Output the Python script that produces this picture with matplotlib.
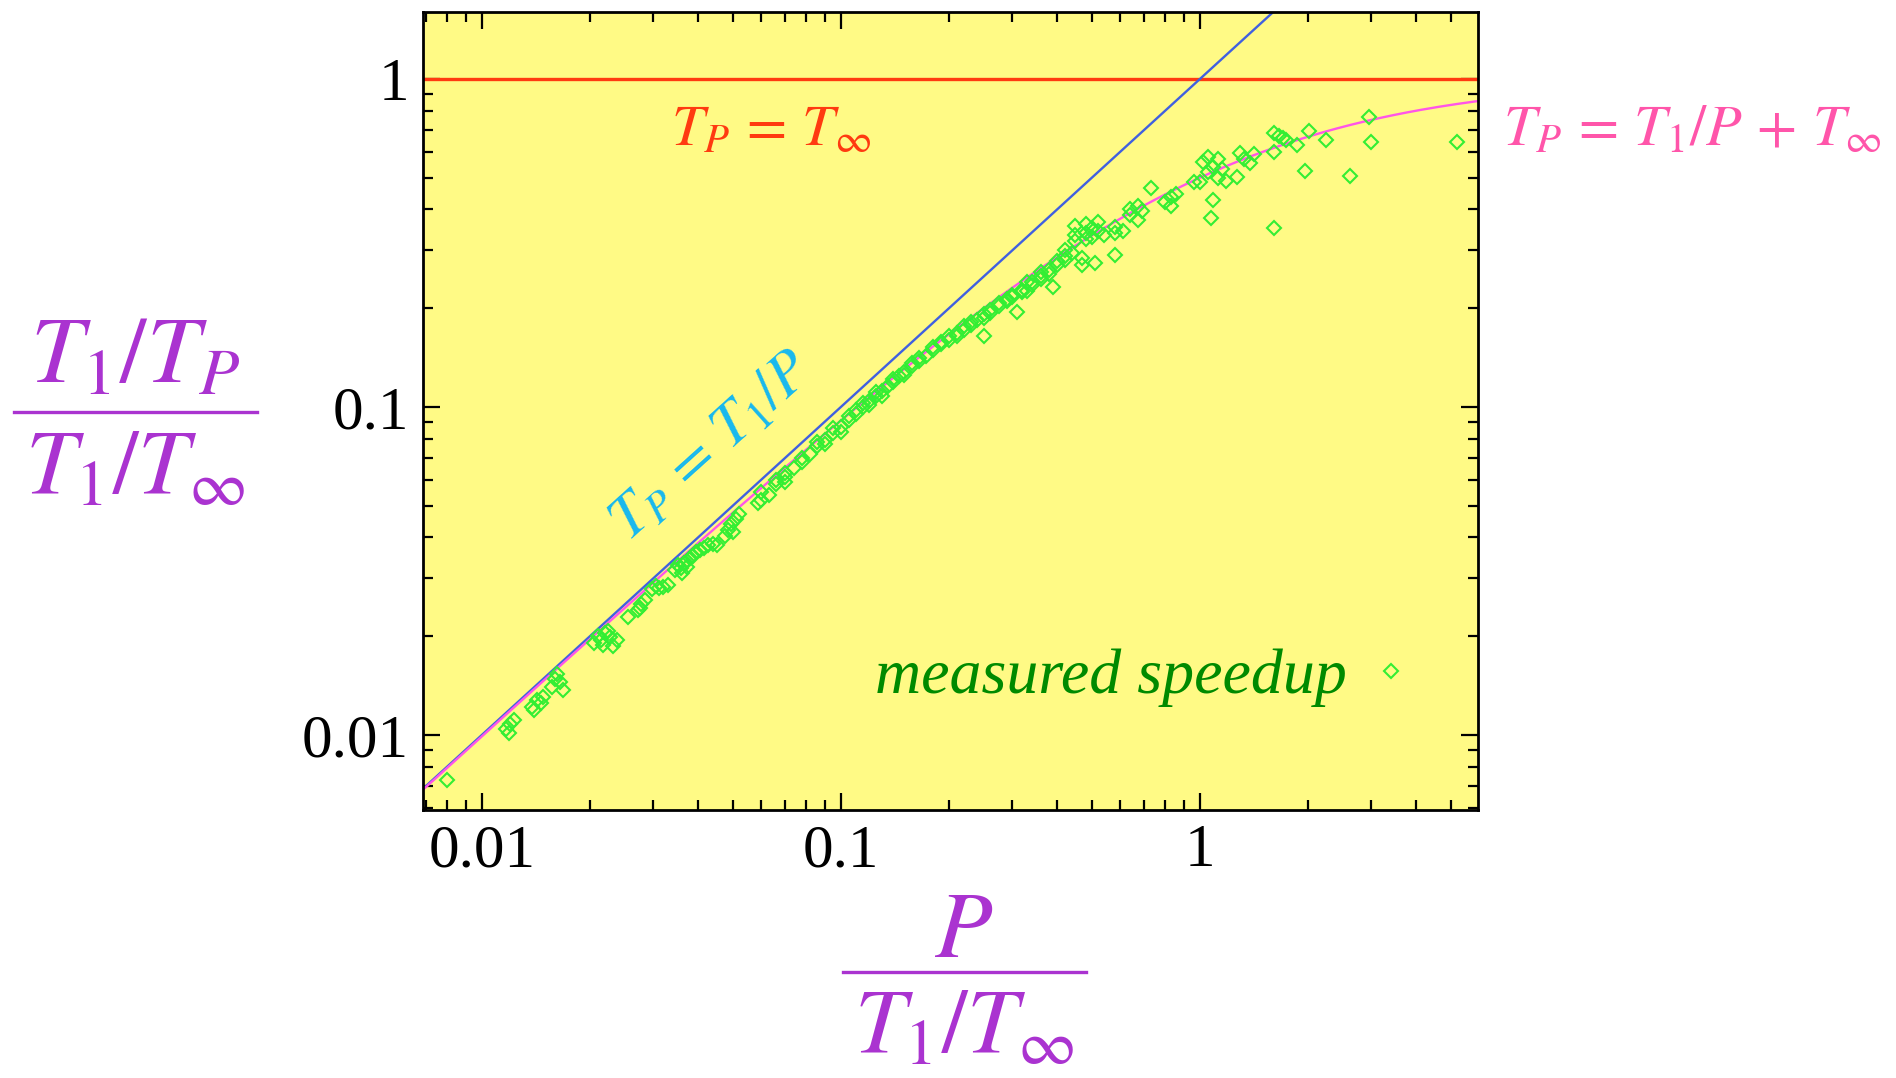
import numpy as np
import matplotlib
matplotlib.use("Agg")
import matplotlib.pyplot as plt
from matplotlib.lines import Line2D
from matplotlib.ticker import FixedLocator, FixedFormatter, LogLocator, NullFormatter

plt.rcParams['mathtext.fontset'] = 'stix'
plt.rcParams['font.family'] = ['Liberation Serif', 'DejaVu Serif']

# measured speedup, x = P/(T1/Tinf), y = (T1/TP)/(T1/Tinf)
meas_x = [
    0.0080,
    0.0117, 0.0120, 0.0123, 0.0119,
    0.0138, 0.0142, 0.0146, 0.0140, 0.0148,
    0.0157, 0.0160, 0.0165, 0.0168, 0.0162,
    0.0205, 0.0210, 0.0215, 0.0220, 0.0225, 0.0218, 0.0232, 0.0238, 0.0228,
    0.0255,
    0.0272, 0.0278, 0.0284, 0.0276,
    0.0298, 0.0305, 0.0312, 0.0320, 0.0330,
    0.0345, 0.0352, 0.0358, 0.0365, 0.0372, 0.0380, 0.0388, 0.0395, 0.0405,
    0.0415, 0.0425, 0.0440, 0.0452, 0.0360, 0.0372,
    0.0475, 0.0485, 0.0495, 0.0510, 0.0520, 0.0500,
    0.0587,
    0.060, 0.060, 0.063, 0.066, 0.066, 0.070, 0.070, 0.070, 0.074, 0.078,
    0.078, 0.082, 0.086, 0.086, 0.090, 0.090, 0.095, 0.095, 0.100, 0.100,
    0.105, 0.105, 0.110, 0.110, 0.115, 0.115, 0.120, 0.120, 0.125, 0.125,
    0.130, 0.130, 0.135, 0.140, 0.140, 0.145, 0.150, 0.150, 0.158, 0.158,
    0.165, 0.165, 0.172, 0.180, 0.180, 0.190, 0.190, 0.200, 0.200, 0.210,
    0.210, 0.220, 0.220, 0.230, 0.230, 0.240, 0.250, 0.250, 0.250, 0.260,
    0.260, 0.275, 0.275, 0.290, 0.290, 0.300, 0.300, 0.310, 0.320, 0.320,
    0.330, 0.330, 0.340, 0.340, 0.360, 0.360, 0.360, 0.380, 0.380, 0.390,
    0.400, 0.400, 0.420, 0.420, 0.420, 0.440, 0.450, 0.450, 0.450, 0.470,
    0.470, 0.480, 0.480, 0.480, 0.500, 0.500, 0.510, 0.520, 0.520, 0.540,
    0.580, 0.580, 0.580, 0.610, 0.640, 0.640, 0.670, 0.670, 0.690, 0.730,
    0.800, 0.830, 0.830, 0.860, 0.960, 1.000, 1.020, 1.050, 1.050, 1.070,
    1.090, 1.090, 1.120, 1.120, 1.150, 1.180, 1.270, 1.290, 1.330, 1.380,
    1.410, 1.610, 1.610, 1.610, 1.660, 1.700, 1.740, 1.860, 1.960, 2.010,
    2.240, 2.620, 2.960, 2.990, 5.200,
]
meas_y = [
    0.0073,
    0.0104, 0.0108, 0.0111, 0.0101,
    0.0122, 0.0128, 0.0125, 0.0119, 0.0130,
    0.0140, 0.0148, 0.0145, 0.0137, 0.0153,
    0.0190, 0.0200, 0.0195, 0.0205, 0.0208, 0.0188, 0.0186, 0.0194, 0.0199,
    0.0229,
    0.0240, 0.0250, 0.0258, 0.0244,
    0.0278, 0.0285, 0.0280, 0.0283, 0.0287,
    0.0318, 0.0330, 0.0322, 0.0335, 0.0340, 0.0345, 0.0352, 0.0360, 0.0366,
    0.0372, 0.0378, 0.0383, 0.0380, 0.0312, 0.0326,
    0.0405, 0.0420, 0.0440, 0.0455, 0.0470, 0.0415,
    0.0510,
    0.052, 0.055, 0.054, 0.058, 0.060, 0.061, 0.063, 0.059, 0.065, 0.068,
    0.070, 0.072, 0.076, 0.078, 0.079, 0.077, 0.083, 0.086, 0.087, 0.084,
    0.091, 0.094, 0.095, 0.098, 0.100, 0.103, 0.104, 0.101, 0.108, 0.111,
    0.112, 0.108, 0.116, 0.119, 0.122, 0.124, 0.128, 0.125, 0.133, 0.136,
    0.138, 0.141, 0.143, 0.149, 0.152, 0.155, 0.158, 0.160, 0.164, 0.168,
    0.165, 0.172, 0.176, 0.178, 0.182, 0.184, 0.187, 0.192, 0.165, 0.193,
    0.198, 0.203, 0.207, 0.210, 0.214, 0.216, 0.220, 0.195, 0.228, 0.224,
    0.240, 0.225, 0.235, 0.240, 0.246, 0.250, 0.258, 0.262, 0.255, 0.232,
    0.270, 0.278, 0.280, 0.288, 0.300, 0.295, 0.320, 0.355, 0.335, 0.285,
    0.270, 0.340, 0.362, 0.325, 0.350, 0.330, 0.275, 0.345, 0.365, 0.335,
    0.290, 0.354, 0.340, 0.345, 0.400, 0.385, 0.372, 0.410, 0.395, 0.466,
    0.420, 0.437, 0.410, 0.445, 0.486, 0.486, 0.560, 0.578, 0.520, 0.377,
    0.428, 0.540, 0.500, 0.570, 0.530, 0.490, 0.503, 0.595, 0.570, 0.555,
    0.590, 0.351, 0.599, 0.685, 0.670, 0.660, 0.652, 0.629, 0.524, 0.694,
    0.652, 0.506, 0.766, 0.643, 0.643,
]

x_min, x_max = 0.00685, 5.95
y_min, y_max = 0.0059, 1.6
tick_vals = [0.01, 0.1, 1]
tick_text = ['0.01', '0.1', '1']

purple = '#AA33D0'

fig = plt.figure(figsize=(18.96, 10.78), dpi=100)
ax = fig.add_axes([423 / 1896, 1 - 810 / 1078, 1055 / 1896, 798 / 1078])
ax.set_facecolor('#FFFA85')
ax.set_xscale('log')
ax.set_yscale('log')
ax.set_xlim(x_min, x_max)
ax.set_ylim(y_min, y_max)

# bounds: span, work/P and the greedy bound
xs = np.logspace(np.log10(x_min), np.log10(x_max), 300)
ax.axhline(1.0, color='#FF3A10', lw=2.4, zorder=2)
ax.plot(xs, xs, color='#4060E0', lw=1.7, zorder=2)
ax.plot(xs, xs / (1 + xs), color='#FF55E8', lw=1.7, zorder=2)

ax.plot(meas_x, meas_y, ls='none', marker='D', ms=7.5, mfc='none',
        mec='#33EE33', mew=1.5, zorder=3, label='measured speedup')

for axis in (ax.xaxis, ax.yaxis):
    axis.set_major_locator(FixedLocator(tick_vals))
    axis.set_major_formatter(FixedFormatter(tick_text))
    axis.set_minor_locator(LogLocator(base=10, subs=np.arange(2, 10), numticks=20))
    axis.set_minor_formatter(NullFormatter())

ax.tick_params(which='both', direction='in', top=True, right=True, width=1.6, color='black')
ax.tick_params(which='major', length=12, labelsize=44, pad=10)
ax.tick_params(which='minor', length=7)
for sp in ax.spines.values():
    sp.set_linewidth(2)

leg = ax.legend(loc='center right', bbox_to_anchor=(0.948, 0.166), frameon=False,
                markerfirst=False, handlelength=1.0, handletextpad=0.2,
                borderpad=0, borderaxespad=0,
                prop={'family': 'Liberation Serif', 'style': 'italic', 'size': 46})
for t in leg.get_texts():
    t.set_color('#008A00')

# curve labels
fig.text(671 / 1896, 1 - 145 / 1078, r'$T_P \,=\, T_\infty$', color='#FF3A10',
         fontsize=42, ha='left', va='baseline')
fig.text(1503 / 1896, 1 - 145 / 1078, r'$T_P \,=\, T_1/P \,+\, T_\infty$', color='#FF55AA',
         fontsize=42, ha='left', va='baseline')
fig.text(713 / 1896, 1 - 448 / 1078, r'$T_P \,=\, T_1/P$', color='#18B8EE',
         fontsize=44, ha='center', va='center', rotation=42, rotation_mode='anchor')

# axis labels drawn as stacked fractions
fig.text(135 / 1896, 1 - 382 / 1078, r'$T_1/T_P$', color=purple, fontsize=68,
         ha='center', va='baseline')
fig.text(135 / 1896, 1 - 493 / 1078, r'$T_1/T_\infty$', color=purple, fontsize=66,
         ha='center', va='baseline')
fig.add_artist(Line2D([14 / 1896, 257 / 1896], [1 - 412 / 1078, 1 - 412 / 1078],
                      color=purple, lw=2.4))

fig.text(964 / 1896, 1 - 957 / 1078, r'$P$', color=purple, fontsize=68,
         ha='center', va='baseline')
fig.text(964 / 1896, 1 - 1052 / 1078, r'$T_1/T_\infty$', color=purple, fontsize=66,
         ha='center', va='baseline')
fig.add_artist(Line2D([843 / 1896, 1086 / 1896], [1 - 972 / 1078, 1 - 972 / 1078],
                      color=purple, lw=2.4))

fig.savefig('out.png', dpi=100, facecolor='white')
